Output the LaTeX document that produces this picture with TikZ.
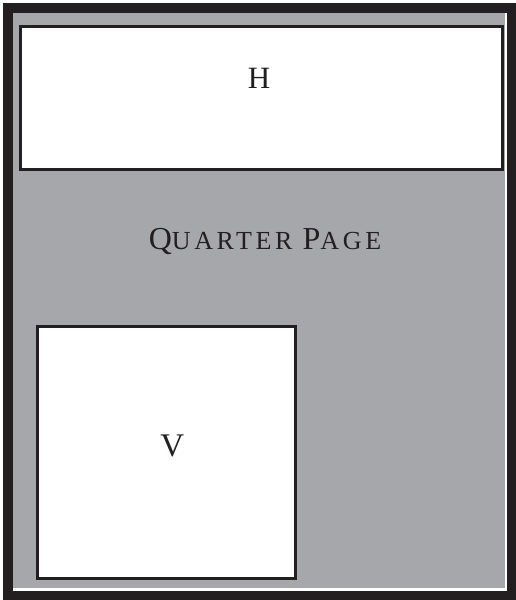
\documentclass[tikz,border=0pt]{standalone}
\usepackage{fontspec}
\setmainfont{Liberation Serif}
\newfontfamily\spacedfont[LetterSpace=14]{Liberation Serif}
\definecolor{frameblack}{HTML}{231F20}
\definecolor{pagegray}{HTML}{A6A7AB}
\begin{document}
\begin{tikzpicture}[x=1pt,y=-1pt,
  adbox/.style={draw=frameblack,line width=3pt,fill=white,inner sep=0pt,anchor=north west},
  lbl/.style={text=frameblack,font=\fontsize{31}{31}\selectfont,inner sep=0pt}]
\useasboundingbox (0,0) rectangle (516,600);
\fill[white] (0,0) rectangle (516,600);
\fill[frameblack] (3,3) rectangle (516,600);
\fill[white] (13,13) rectangle (507,591);
\fill[pagegray] (13,13) rectangle (505,588);
\node[adbox,minimum width=482pt,minimum height=143pt] (hbox) at (18.5,24.5) {};
\node[adbox,minimum width=258.5pt,minimum height=251.5pt] (vbox) at (35.5,325) {};
\node[lbl] (hlabel) at ([xshift=-2pt,yshift=19pt]hbox.center) {H};
\node[lbl,font=\fontsize{33}{33}\selectfont] (vlabel) at ([xshift=6pt,yshift=6pt]vbox.center) {V};
\node[text=frameblack,inner sep=0pt,font=\spacedfont] (qlabel) at (265,241)
  {\fontsize{32}{32}\selectfont Q\fontsize{26}{26}\selectfont UARTER
   \fontsize{32}{32}\selectfont P\fontsize{26}{26}\selectfont AGE};
\end{tikzpicture}
\end{document}
